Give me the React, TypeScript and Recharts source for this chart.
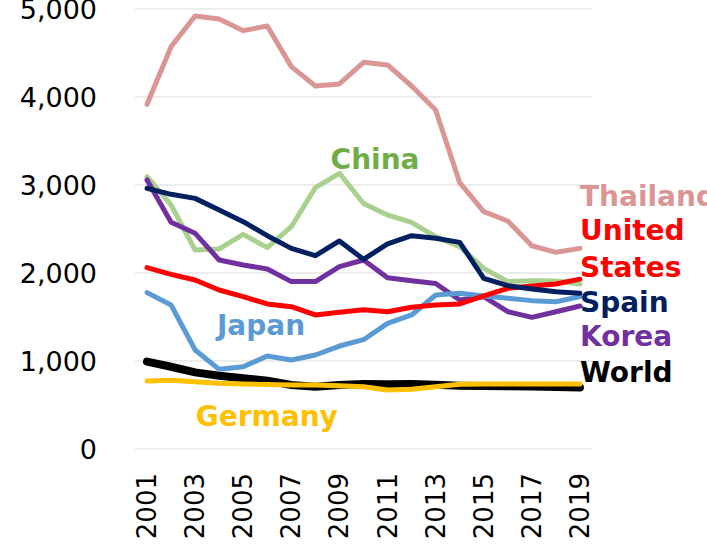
import React from 'react';
import { LineChart, Line, XAxis, YAxis, CartesianGrid, ReferenceDot } from 'recharts';

const years = [2001, 2002, 2003, 2004, 2005, 2006, 2007, 2008, 2009, 2010, 2011, 2012, 2013, 2014, 2015, 2016, 2017, 2018, 2019];
const xTicks = [2001, 2003, 2005, 2007, 2009, 2011, 2013, 2015, 2017, 2019];
const yTicks = [0, 1000, 2000, 3000, 4000, 5000];

const thailand = [3917, 4572, 4920, 4886, 4754, 4807, 4345, 4125, 4148, 4394, 4364, 4125, 3852, 3026, 2697, 2591, 2310, 2235, 2280];
const china = [3095, 2773, 2261, 2273, 2439, 2288, 2526, 2970, 3133, 2790, 2659, 2576, 2413, 2299, 2053, 1902, 1913, 1909, 1875];
const spain = [2962, 2894, 2848, 2716, 2583, 2424, 2280, 2197, 2364, 2155, 2330, 2424, 2394, 2348, 1939, 1856, 1818, 1788, 1769];
const korea = [3057, 2576, 2451, 2148, 2091, 2045, 1902, 1902, 2072, 2148, 1947, 1913, 1880, 1693, 1731, 1560, 1496, 1560, 1625];
const unitedStates = [2061, 1985, 1920, 1807, 1731, 1648, 1617, 1523, 1553, 1582, 1560, 1610, 1636, 1648, 1739, 1826, 1852, 1875, 1930];
const japan = [1777, 1636, 1125, 905, 935, 1057, 1011, 1068, 1170, 1242, 1428, 1523, 1750, 1769, 1739, 1712, 1686, 1674, 1731];
const world = [993, 935, 871, 833, 803, 777, 727, 708, 727, 739, 735, 740, 730, 720, 715, 712, 710, 705, 700];
const germany = [773, 780, 765, 746, 739, 733, 727, 727, 720, 708, 670, 678, 708, 735, 739, 739, 739, 739, 739];

const data = years.map((year, i) => ({
  year,
  thailand: thailand[i],
  china: china[i],
  spain: spain[i],
  korea: korea[i],
  unitedStates: unitedStates[i],
  japan: japan[i],
  world: world[i],
  germany: germany[i],
}));

const FONT = 'DejaVu Sans, Verdana, sans-serif';

const XTick = (props: any) => {
  const { x, y, payload } = props;
  return (
    <text
      x={x}
      y={y}
      transform={`rotate(-90 ${x} ${y})`}
      textAnchor="end"
      dominantBaseline="central"
      fontSize={26}
      fontFamily={FONT}
      fill="#000"
    >
      {payload.value}
    </text>
  );
};

const YTick = (props: any) => {
  const { x, y, payload } = props;
  return (
    <text
      x={x}
      y={y}
      textAnchor="end"
      dominantBaseline="central"
      fontSize={27}
      fontFamily={FONT}
      fill="#000"
    >
      {Number(payload.value).toLocaleString('en-US')}
    </text>
  );
};

const Tag = (props: any) => {
  const { viewBox, text, color, anchor } = props;
  const vx = viewBox ? viewBox.x + (viewBox.width || 0) / 2 : 0;
  const vy = viewBox ? viewBox.y + (viewBox.height || 0) / 2 : 0;
  return (
    <text
      x={vx}
      y={vy}
      textAnchor={anchor}
      dominantBaseline="central"
      fontSize={28}
      fontWeight="bold"
      fontFamily={FONT}
      fill={color}
    >
      {text}
    </text>
  );
};

const labels = [
  { x: 2010.48, y: 3292, text: 'China', color: '#70AD47', anchor: 'middle' },
  { x: 2005.74, y: 1409, text: 'Japan', color: '#5B9BD5', anchor: 'middle' },
  { x: 2005.98, y: 367, text: 'Germany', color: '#FFC000', anchor: 'middle' },
  { x: 2019.0, y: 2875, text: 'Thailand', color: '#DA9694', anchor: 'start' },
  { x: 2019.0, y: 2480, text: 'United', color: '#FF0000', anchor: 'start' },
  { x: 2019.0, y: 2065, text: 'States', color: '#FF0000', anchor: 'start' },
  { x: 2019.0, y: 1668, text: 'Spain', color: '#002060', anchor: 'start' },
  { x: 2019.0, y: 1273, text: 'Korea', color: '#7030A0', anchor: 'start' },
  { x: 2019.0, y: 869, text: 'World', color: '#000000', anchor: 'start' },
];

const series = [
  { key: 'world', color: '#000000', width: 8 },
  { key: 'thailand', color: '#DA9694', width: 5 },
  { key: 'china', color: '#A9D18E', width: 5 },
  { key: 'korea', color: '#7030A0', width: 5 },
  { key: 'japan', color: '#5B9BD5', width: 5 },
  { key: 'unitedStates', color: '#FF0000', width: 5 },
  { key: 'spain', color: '#002060', width: 5 },
  { key: 'germany', color: '#FFC000', width: 5 },
];

export default function App() {
  return (
    <div style={{ position: 'absolute', left: 0, top: 0, background: '#fff' }}>
      <LineChart width={707} height={548} data={data} margin={{ top: 9, right: 115, bottom: 0, left: 0 }}>
        <CartesianGrid vertical={false} stroke="#D9D9D9" strokeWidth={1} />
        <XAxis
          dataKey="year"
          type="number"
          domain={[2000.5, 2019.5]}
          ticks={xTicks}
          interval={0}
          axisLine={false}
          tickLine={false}
          tickSize={0}
          tickMargin={24}
          height={99}
          tick={<XTick />}
        />
        <YAxis
          domain={[0, 5000]}
          ticks={yTicks}
          axisLine={false}
          tickLine={false}
          tickSize={0}
          tickMargin={38}
          width={135}
          tick={<YTick />}
        />
        {series.map((s) => (
          <Line
            key={s.key}
            dataKey={s.key}
            stroke={s.color}
            strokeWidth={s.width}
            dot={false}
            activeDot={false}
            strokeLinejoin="round"
            strokeLinecap="round"
            isAnimationActive={false}
          />
        ))}
        {labels.map((l) => (
          <ReferenceDot
            key={l.text}
            x={l.x}
            y={l.y}
            r={0}
            fill="none"
            stroke="none"
            ifOverflow="visible"
            label={<Tag text={l.text} color={l.color} anchor={l.anchor} />}
          />
        ))}
      </LineChart>
    </div>
  );
}
